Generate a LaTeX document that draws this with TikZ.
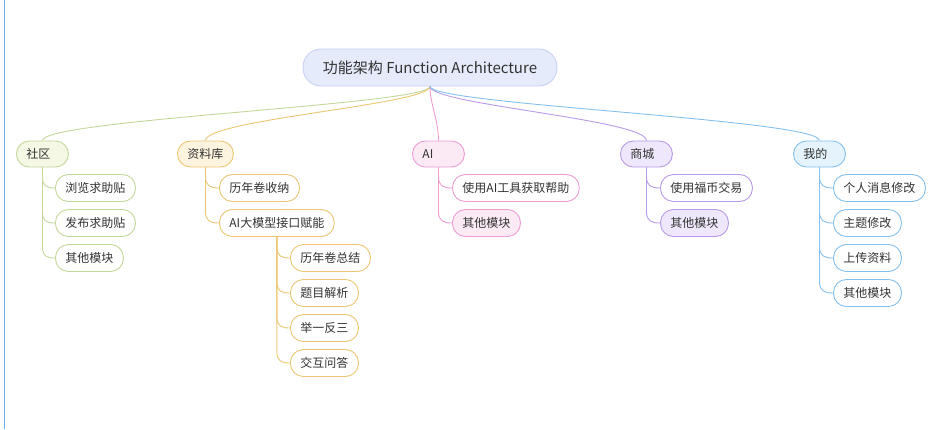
\documentclass[tikz,border=0pt]{standalone}
\usepackage{fontspec}
\newfontfamily\cjk{Noto Sans CJK SC}
\definecolor{txt}{HTML}{333333}
\definecolor{rootfill}{HTML}{E5EBFB}
\definecolor{rootline}{HTML}{C8D2F2}
\definecolor{gL}{HTML}{C4D79A}
\definecolor{gF}{HTML}{F4F8E5}
\definecolor{oL}{HTML}{EBC673}
\definecolor{oF}{HTML}{FDF4DF}
\definecolor{pL}{HTML}{EE9CD4}
\definecolor{pF}{HTML}{FBE9F4}
\definecolor{vL}{HTML}{B89AE8}
\definecolor{vF}{HTML}{EFE7FB}
\definecolor{bL}{HTML}{84C0EC}
\definecolor{bF}{HTML}{E4F3FC}
\definecolor{edgeline}{HTML}{6AAEF2}
\newcommand\toplink[2]{\draw[#1,line width=0.9pt] (root.south) .. controls ([yshift=-18pt]root.south) and ([yshift=21pt]#2.north) .. (#2.north);}
\newcommand\kidlink[3]{\draw[#1,line width=0.9pt] (#2.south) -- ([yshift=12pt]#2.south |- #3.west) .. controls ([yshift=2pt]#2.south |- #3.west) and ([xshift=-9pt]#3.west) .. (#3.west);}
\begin{document}
\begin{tikzpicture}[x=1pt,y=-1pt,
  every node/.style={font=\cjk\fontsize{12}{14}\selectfont, text=txt},
  pill/.style={rounded corners=13pt, inner xsep=10pt, inner ysep=0pt, anchor=west, line width=0.9pt, minimum height=27pt},
  lone/.style={pill, minimum height=26pt}]
\useasboundingbox (0,0) rectangle (934,429);
\draw[edgeline, line width=1.2pt] (4.5,0) -- (4.5,429);
% root
\node[draw=rootline, fill=rootfill, rounded corners=18pt, minimum height=37pt, minimum width=254pt, inner xsep=17pt, line width=0.9pt, font=\cjk\fontsize{15}{17}\selectfont] (root) at (430,67.5) {功能架构 Function Architecture};
% level 1
\node[lone, draw=gL, fill=gF] (sq) at (16,154) {\makebox[32pt][l]{社区}};
\node[lone, draw=oL, fill=oF] (zlk) at (177,154) {资料库};
\node[lone, draw=pL, fill=pF] (ai) at (412,154) {\makebox[32pt][l]{AI}};
\node[lone, draw=vL, fill=vF] (sc) at (620,154) {\makebox[32pt][l]{商城}};
\node[lone, draw=bL, fill=bF] (wd) at (793,154) {\makebox[32pt][l]{我的}};
% 社区 children
\node[pill, draw=gL, fill=white] (sq1) at (55,188) {浏览求助贴};
\node[pill, draw=gL, fill=white] (sq2) at (55,223) {发布求助贴};
\node[pill, draw=gL, fill=white] (sq3) at (55,258) {其他模块};
% 资料库 children
\node[pill, draw=oL, fill=white] (zl1) at (219,188) {历年卷收纳};
\node[pill, draw=oL, fill=white] (zl2) at (219,223) {AI大模型接口赋能};
\node[pill, draw=oL, fill=white] (zg1) at (290,258) {历年卷总结};
\node[pill, draw=oL, fill=white] (zg2) at (290,293) {题目解析};
\node[pill, draw=oL, fill=white] (zg3) at (290,328) {举一反三};
\node[pill, draw=oL, fill=white] (zg4) at (290,363) {交互问答};
% AI children
\node[pill, draw=pL, fill=white] (ai1) at (452,188) {使用AI工具获取帮助};
\node[pill, draw=pL, fill=pF] (ai2) at (452,223) {其他模块};
% 商城 children
\node[pill, draw=vL, fill=white] (sc1) at (660,188) {使用福币交易};
\node[pill, draw=vL, fill=vF] (sc2) at (660,223) {其他模块};
% 我的 children
\node[pill, draw=bL, fill=white] (wd1) at (833,188) {个人消息修改};
\node[pill, draw=bL, fill=white] (wd2) at (833,223) {主题修改};
\node[pill, draw=bL, fill=white] (wd3) at (833,258) {上传资料};
\node[pill, draw=bL, fill=white] (wd4) at (833,293) {其他模块};
% connectors
\toplink{gL}{sq}
\toplink{oL}{zlk}
\toplink{pL}{ai}
\toplink{vL}{sc}
\toplink{bL}{wd}
\kidlink{gL}{sq}{sq1}
\kidlink{gL}{sq}{sq2}
\kidlink{gL}{sq}{sq3}
\kidlink{oL}{zlk}{zl1}
\kidlink{oL}{zlk}{zl2}
\kidlink{oL}{zl2}{zg1}
\kidlink{oL}{zl2}{zg2}
\kidlink{oL}{zl2}{zg3}
\kidlink{oL}{zl2}{zg4}
\kidlink{pL}{ai}{ai1}
\kidlink{pL}{ai}{ai2}
\kidlink{vL}{sc}{sc1}
\kidlink{vL}{sc}{sc2}
\kidlink{bL}{wd}{wd1}
\kidlink{bL}{wd}{wd2}
\kidlink{bL}{wd}{wd3}
\kidlink{bL}{wd}{wd4}
\end{tikzpicture}
\end{document}
